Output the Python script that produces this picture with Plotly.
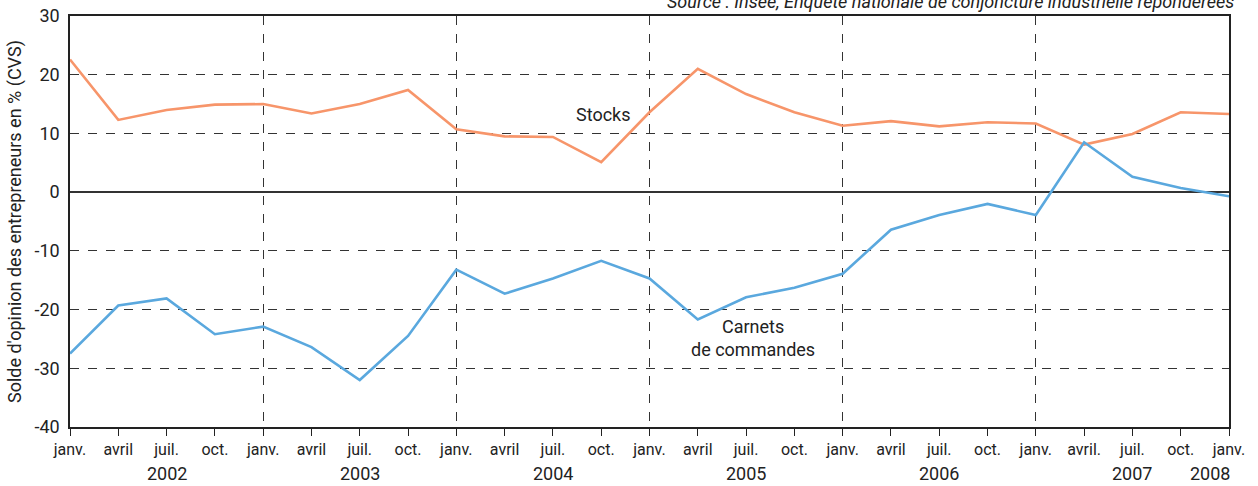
import plotly.graph_objects as go

quarters = ["janv.", "avril", "juil.", "oct."] * 6 + ["janv."]
quarters[21] = "avril."
years = ["2002", "2003", "2004", "2005", "2006", "2007"]
last_year = "2008"
y_ticks = [-40, -30, -20, -10, 0, 10, 20, 30]
y_ticktext = ["-40", "-30", "-20", "-10", "0", "10", "20", "30"]

stocks = [22.6, 12.3, 14.0, 14.9, 15.0, 13.4, 15.0, 17.4, 10.7, 9.5, 9.4, 5.1,
          13.6, 21.0, 16.7, 13.6, 11.3, 12.1, 11.2, 11.9, 11.7, 8.1, 9.9, 13.6, 13.3]
carnets = [-27.5, -19.3, -18.1, -24.2, -22.9, -26.4, -32.0, -24.5, -13.2, -17.3, -14.7, -11.7,
           -14.7, -21.7, -17.9, -16.3, -13.9, -6.4, -3.9, -2.0, -3.9, 8.5, 2.6, 0.7, -0.7]

x = list(range(len(quarters)))
FONT = "Roboto, sans-serif"
ORANGE = "#F7956A"
BLUE = "#5AA8DE"
DARK = "#222222"

fig = go.Figure()
fig.add_trace(go.Scatter(x=x, y=stocks, mode="lines", line=dict(color=ORANGE, width=2.6),
                         name="Stocks", showlegend=False))
fig.add_trace(go.Scatter(x=x, y=carnets, mode="lines", line=dict(color=BLUE, width=2.6),
                         name="Carnets de commandes", showlegend=False))

janv_idx = [i for i, q in enumerate(quarters) if q == "janv."]

fig.update_layout(
    width=1258, height=486,
    margin=dict(l=70, r=29, t=16, b=59, autoexpand=False),
    paper_bgcolor="white", plot_bgcolor="white",
    font=dict(family=FONT, color=DARK, size=16),
    xaxis=dict(
        range=[0, len(quarters) - 1], tickmode="array", tickvals=x, ticktext=quarters,
        ticks="outside", ticklen=7, tickcolor=DARK, tickwidth=1.2,
        showgrid=False, zeroline=False, automargin=False,
        showline=True, linecolor=DARK, linewidth=1.5, mirror=True,
        tickfont=dict(family=FONT, size=16, color=DARK),
    ),
    xaxis2=dict(
        overlaying="x", range=[0, len(quarters) - 1], tickmode="array",
        tickvals=janv_idx[1:-1], showticklabels=False, ticks="",
        showgrid=True, gridcolor="#333333", gridwidth=1.2, griddash="dash",
        zeroline=False, showline=False,
    ),
    yaxis=dict(
        range=[-40, 30], tickmode="array", tickvals=y_ticks, ticktext=y_ticktext,
        showgrid=True, gridcolor="#333333", gridwidth=1.2, griddash="dash",
        zeroline=True, zerolinecolor="#333333", zerolinewidth=1.5,
        showline=True, linecolor=DARK, linewidth=1.5, mirror=True,
        ticks="", ticklabelstandoff=5, automargin=False,
        tickfont=dict(family=FONT, size=18, color=DARK),
        title=dict(text="Solde d'opinion des entrepreneurs en % (CVS)",
                   font=dict(family=FONT, size=18, color=DARK), standoff=8),
    ),
)
fig.add_trace(go.Scatter(x=[0], y=[None], xaxis="x2", showlegend=False, hoverinfo="skip"))

annotations = []
for k, yr in enumerate(years):
    annotations.append(dict(x=janv_idx[k] + 2, y=-0.112, xref="x", yref="paper", text=yr,
                            showarrow=False, yanchor="middle",
                            font=dict(family=FONT, size=18, color=DARK)))
annotations.append(dict(x=janv_idx[-1], y=-0.112, xref="x", yref="paper", text=last_year,
                        showarrow=False, yanchor="middle", xanchor="right", xshift=3,
                        font=dict(family=FONT, size=18, color=DARK)))
annotations.append(dict(x=11.05, y=13.2, xref="x", yref="y", text="Stocks", showarrow=False,
                        font=dict(family=FONT, size=18, color=DARK)))
annotations.append(dict(x=14.15, y=-24.9, xref="x", yref="y", text="Carnets<br>de commandes",
                        showarrow=False, font=dict(family=FONT, size=18, color=DARK)))
annotations.append(dict(x=1.006, y=1.036, xref="paper", yref="paper",
                        text="<i>Source : Insee, Enquête nationale de conjoncture industrielle repondérées</i>",
                        showarrow=False, xanchor="right", yanchor="middle",
                        font=dict(family=FONT, size=18, color=DARK)))
fig.update_layout(annotations=annotations)

fig.write_html("out.html", config={"displayModeBar": False},
               post_script="document.body.style.margin='0px';document.body.style.padding='0px';")
